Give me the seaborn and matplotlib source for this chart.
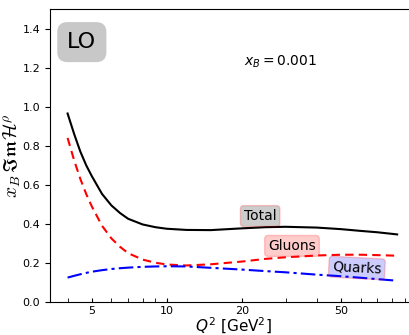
import numpy as np
import pandas as pd
import seaborn as sns
import matplotlib
matplotlib.use("Agg")
import matplotlib.pyplot as plt
from matplotlib.ticker import FixedLocator, NullFormatter, FixedFormatter

# Q^2 grid [GeV^2] and the LO contributions to x_B Im H^rho at x_B = 0.001
q2 = [4, 4.25, 4.5, 4.75, 5, 5.5, 6, 6.5, 7, 8, 9, 10, 12, 15, 20, 25, 30,
      40, 50, 60, 70, 84]
total = [0.965, 0.86, 0.77, 0.70, 0.645, 0.553, 0.494, 0.455, 0.426, 0.397,
         0.383, 0.375, 0.369, 0.368, 0.377, 0.383, 0.385, 0.381, 0.373,
         0.364, 0.357, 0.346]
gluons = [0.84, 0.725, 0.63, 0.553, 0.49, 0.39, 0.325, 0.282, 0.25, 0.217,
          0.201, 0.192, 0.187, 0.193, 0.207, 0.221, 0.229, 0.238, 0.242,
          0.242, 0.240, 0.237]
quarks = [0.125, 0.134, 0.142, 0.149, 0.155, 0.163, 0.169, 0.173, 0.176,
          0.180, 0.182, 0.183, 0.182, 0.175, 0.166, 0.158, 0.152, 0.140,
          0.132, 0.124, 0.117, 0.109]

major_ticks = [5, 10, 20, 50]
minor_ticks = [3, 4, 6, 7, 8, 9, 30, 40, 60, 70, 80, 90]
y_ticks = [0.0, 0.2, 0.4, 0.6, 0.8, 1.0, 1.2, 1.4]

fig = plt.figure(figsize=(4.10, 3.35), dpi=100)
ax = fig.add_axes([50 / 410, 33 / 335, 366 / 410, 293 / 335])

series = [
    ("Total", total, "black", "-"),
    ("Gluons", gluons, "red", (0, (4, 2.5))),
    ("Quarks", quarks, "blue", (0, (7, 2, 1.5, 2))),
]
for name, vals, color, ls in series:
    df = pd.DataFrame({"Q2": q2, "val": vals})
    sns.lineplot(data=df, x="Q2", y="val", ax=ax, color=color, lw=1.5,
                 linestyle=ls, legend=False)

ax.set_xscale("log")
ax.set_xlim(3.4, 100)
ax.set_ylim(0, 1.5)

ax.xaxis.set_major_locator(FixedLocator(major_ticks))
ax.xaxis.set_major_formatter(FixedFormatter([str(t) for t in major_ticks]))
ax.xaxis.set_minor_locator(FixedLocator(minor_ticks))
ax.xaxis.set_minor_formatter(NullFormatter())
ax.set_yticks(y_ticks)
ax.set_yticklabels([f"{t:.1f}" for t in y_ticks])

ax.tick_params(axis="x", which="both", direction="in", length=3, labelsize=8, pad=3)
ax.tick_params(axis="y", which="both", direction="out", length=3.5, labelsize=8)

ax.set_xlabel(r"$Q^2$ [GeV$^2$]", fontsize=11, labelpad=0)
ax.set_ylabel(r"$x_B\,\mathfrak{Im}\mathcal{H}^\rho$", fontsize=14,
              math_fontfamily="cm")
ax.yaxis.set_label_coords(-0.073, 0.5)

ax.text(28.7, 1.23, r"$x_B = 0.001$", fontsize=10, ha="center", va="center")
ax.text(0.087, 0.887, "LO", transform=ax.transAxes, fontsize=16,
        ha="center", va="center",
        bbox=dict(boxstyle="round,pad=0.45", facecolor="#c8c8c8",
                  edgecolor="none"))

label_pos = [("Total", 23.7, 0.44, "black", 0),
             ("Gluons", 31.8, 0.287, "red", 0),
             ("Quarks", 57.9, 0.174, "blue", -3)]
for name, x, y, color, rot in label_pos:
    ax.text(x, y, name, fontsize=10, ha="center", va="center", rotation=rot,
            rotation_mode="anchor",
            bbox=dict(boxstyle="round,pad=0.25", facecolor=color,
                      edgecolor="red", alpha=0.2))

fig.savefig("out.png", dpi=100)
